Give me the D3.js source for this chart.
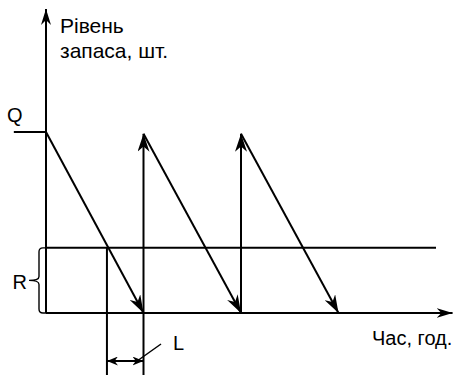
<!DOCTYPE html>
<html lang="uk">
<head>
<meta charset="utf-8"/>
<title>Рівень запасу</title>
<script src="https://cdn.jsdelivr.net/npm/d3@7"></script>
<style>
  html, body { margin: 0; padding: 0; background: #fff; }
  svg { display: block; }
  text { font-family: "Liberation Sans", Arial, sans-serif; font-size: 20px; fill: #000; }
  text.ylab { font-size: 21px; }
</style>
</head>
<body>
<svg id="chart" width="455" height="375"></svg>
<script>
// --- data (time in cycle units, level in % of Q) ---
const cycleStarts = [0, 1, 2];        // order arrives / cycle begins
const peakLevels = [100, 99, 99];     // stock right after arrival
const cycleEnds = [1, 2, 3];          // stock runs out
const reorderLevel = 36;              // R
const reorderTime = 0.625;            // moment stock hits R
const leadTime = 0.375;               // L
const timeMax = 4.17;
const levelMax = 168;
const rLineEnd = 4.0;
const qTickStart = -0.33;

const yLabel = ['Рівень', 'запаса, шт.'];
const xLabel = 'Час, год.';
const markLabels = ['Q', 'R', 'L'];

const svg = d3.select('#chart');
const height = +svg.attr('height');

const x = d3.scaleLinear().domain([0, 1]).range([46, 143.5]);
const y = d3.scaleLinear().domain([0, 100]).range([313, 132]);

// arrowheads
const defs = svg.append('defs');
function arrow(id, len, w) {
  defs.append('marker')
    .attr('id', id)
    .attr('markerUnits', 'userSpaceOnUse')
    .attr('viewBox', `${-len} ${-w / 2} ${len} ${w}`)
    .attr('refX', 0).attr('refY', 0)
    .attr('markerWidth', len).attr('markerHeight', w)
    .attr('orient', 'auto-start-reverse')
    .append('path')
    .attr('d', `M0,0L${-len},${-w / 2}L${-len * 0.7},0L${-len},${w / 2}Z`)
    .attr('fill', '#000');
}
arrow('axis', 16, 10);
arrow('big', 18, 12);
arrow('small', 11, 9);

const line = d3.line().x(d => x(d[0])).y(d => y(d[1]));

function seg(pts, opts) {
  const p = svg.append('path')
    .attr('d', line(pts))
    .attr('fill', 'none')
    .attr('stroke', '#000')
    .attr('stroke-width', opts && opts.w || 2);
  if (opts && opts.end) p.attr('marker-end', 'url(#' + opts.end + ')');
  return p;
}

// axes
seg([[0, 0], [0, levelMax]], {end: 'axis'});
seg([[0, 0], [timeMax, 0]], {end: 'axis'});

// Q tick
seg([[qTickStart, 100], [0, 100]]);

// reorder level line
seg([[0, reorderLevel], [rLineEnd, reorderLevel]]);

// guide lines for lead time
svg.append('line')
  .attr('x1', x(reorderTime)).attr('x2', x(reorderTime))
  .attr('y1', y(reorderLevel)).attr('y2', height)
  .attr('stroke', '#000').attr('stroke-width', 2);
svg.append('line')
  .attr('x1', x(reorderTime + leadTime)).attr('x2', x(reorderTime + leadTime))
  .attr('y1', y(0)).attr('y2', height)
  .attr('stroke', '#000').attr('stroke-width', 2);

// sawtooth: consumption and replenishment
cycleStarts.forEach((t, i) => {
  if (i > 0) seg([[t, 0], [t, peakLevels[i]]], {end: 'big'});
  seg([[t, peakLevels[i]], [cycleEnds[i], 0]], {end: 'big'});
});

// L double arrow
const ly = 361;
svg.append('line')
  .attr('x1', x(reorderTime)).attr('x2', x(reorderTime + leadTime))
  .attr('y1', ly).attr('y2', ly)
  .attr('stroke', '#000').attr('stroke-width', 2)
  .attr('marker-start', 'url(#small)')
  .attr('marker-end', 'url(#small)');
svg.append('line')
  .attr('x1', x(reorderTime + leadTime) - 5).attr('y1', ly - 1)
  .attr('x2', 161).attr('y2', 344)
  .attr('stroke', '#000').attr('stroke-width', 1.5);

// brace for R
const bx = 39, tipX = 29, bTop = y(reorderLevel), bBot = y(0), bMid = (bTop + bBot) / 2;
svg.append('path')
  .attr('d', `M46,${bTop} L${bx + 4},${bTop} Q${bx},${bTop} ${bx},${bTop + 4}
    L${bx},${bMid - 4} Q${bx},${bMid} ${tipX},${bMid} Q${bx},${bMid} ${bx},${bMid + 4}
    L${bx},${bBot - 4} Q${bx},${bBot} ${bx + 4},${bBot} L46,${bBot}`)
  .attr('fill', 'none').attr('stroke', '#000').attr('stroke-width', 1.4);

// labels
svg.append('text').attr('class', 'ylab').attr('x', 60).attr('y', 33).text(yLabel[0]);
svg.append('text').attr('class', 'ylab').attr('x', 60).attr('y', 58).text(yLabel[1]);
svg.append('text').attr('x', 372).attr('y', 345).text(xLabel);
svg.append('text').attr('x', 7).attr('y', 122).text(markLabels[0]);
svg.append('text').attr('x', 12.5).attr('y', 289).text(markLabels[1]);
svg.append('text').attr('x', 173).attr('y', 350).text(markLabels[2]);
</script>
</body>
</html>
